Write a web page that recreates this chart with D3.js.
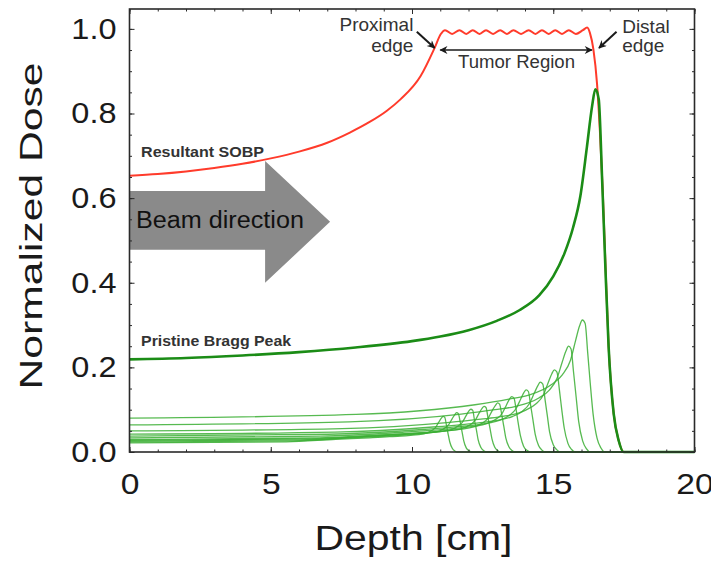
<!DOCTYPE html>
<html>
<head>
<meta charset="utf-8">
<script src="https://cdn.jsdelivr.net/npm/d3@7"></script>
<style>
  body { margin: 0; background: #fff; }
  text { font-family: "Liberation Sans", Arial, sans-serif; }
</style>
</head>
<body>
<div id="chart"></div>
<script>
const W = 711, H = 563;

// axis ticks
const depthTicks = [0, 5, 10, 15, 20];
const depthMinor = d3.range(0, 21, 1);
const doseTicks = [0, 0.2, 0.4, 0.6, 0.8, 1.0];
const doseMinor = d3.range(0, 1.05, 0.05);

// resultant spread-out Bragg peak [depth cm, dose]
const sobp = [[0,0.653],[1,0.657],[2,0.663],[3,0.671],[4,0.681],[5,0.694],[6,0.71],[7,0.731],
  [7.8,0.755],[8.5,0.78],[9.1,0.806],[9.6,0.834],[10.3,0.888],[10.8,0.955],[11.02,0.988],
  [11.17,0.997],[11.42,0.988],[11.68,0.997],[11.92,0.988],[12.15,0.997],[12.39,0.988],
  [12.62,0.997],[12.87,0.988],[13.12,0.997],[13.36,0.988],[13.59,0.997],[13.86,0.988],
  [14.13,0.997],[14.37,0.988],[14.6,0.997],[14.84,0.988],[15.07,0.997],[15.31,0.988],
  [15.55,0.997],[15.8,0.988],[16.05,0.997],[16.2,1.003],[16.3,0.99],[16.42,0.952],
  [16.55,0.87],[16.65,0.76],[16.75,0.62],[16.85,0.44],[16.96,0.25],[17.14,0.09],
  [17.32,0.026],[17.49,0],[20,0]];

// pristine (unmodulated) Bragg peak
const pristine = [[0,0.219],[2,0.222],[4,0.228],[6,0.236],[8,0.247],[10,0.262],[11,0.273],
  [12,0.288],[13,0.31],[13.8,0.335],[14.5,0.37],[15,0.415],[15.4,0.47],[15.7,0.53],
  [15.96,0.605],[16.19,0.72],[16.37,0.815],[16.49,0.857],[16.61,0.834],[16.73,0.644],
  [16.84,0.446],[16.96,0.248],[17.14,0.09],[17.32,0.026],[17.49,0],[20,0]];

// weighted peaks that sum to the SOBP
const weightedPeaks = [
  [[0,0.0215],[5.55,0.0239],[7.3,0.0301],[8.5,0.0336],[9.2,0.0361],[10.42,0.0429],[10.655,0.0491],[10.835,0.0584],[10.95,0.0709],[11.04,0.0801],[11.1,0.084],[11.16,0.0817],[11.22,0.0631],[11.275,0.0437],[11.335,0.0243],[11.425,0.0088],[11.515,0.0025],[11.6,0],[20,0]],
  [[0,0.0238],[5.79,0.0265],[7.78,0.0333],[8.98,0.0372],[9.68,0.04],[10.86,0.0475],[11.11,0.0544],[11.3,0.0646],[11.42,0.0785],[11.52,0.0887],[11.58,0.093],[11.64,0.0905],[11.71,0.0698],[11.77,0.0484],[11.83,0.0269],[11.92,0.0098],[12.02,0.0028],[12.11,0],[20,0]],
  [[0,0.0259],[6.04,0.0288],[8.28,0.0362],[9.48,0.0404],[10.18,0.0434],[11.32,0.0516],[11.58,0.0591],[11.78,0.0702],[11.91,0.0852],[12.01,0.0964],[12.08,0.101],[12.15,0.0983],[12.21,0.0759],[12.28,0.0525],[12.34,0.0292],[12.44,0.0106],[12.54,0.003],[12.64,0],[20,0]],
  [[0,0.0276],[6.28,0.0308],[8.75,0.0387],[9.95,0.0432],[10.65,0.0464],[11.75,0.0552],[12.03,0.0632],[12.24,0.0751],[12.37,0.0912],[12.48,0.103],[12.55,0.108],[12.62,0.1051],[12.69,0.0811],[12.76,0.0562],[12.83,0.0312],[12.93,0.0113],[13.04,0.0032],[13.14,0],[20,0]],
  [[0,0.0297],[6.52,0.0331],[9.23,0.0415],[10.43,0.0464],[11.13,0.0499],[12.19,0.0593],[12.48,0.0679],[12.7,0.0806],[12.84,0.0979],[12.96,0.1107],[13.03,0.116],[13.1,0.1129],[13.18,0.0871],[13.25,0.0603],[13.32,0.0335],[13.43,0.0122],[13.54,0.0035],[13.65,0],[20,0]],
  [[0,0.0335],[6.77,0.0373],[9.73,0.0469],[10.93,0.0524],[11.63,0.0563],[12.65,0.0669],[12.95,0.0766],[13.19,0.091],[13.34,0.1106],[13.45,0.125],[13.53,0.131],[13.61,0.1275],[13.69,0.0984],[13.76,0.0681],[13.84,0.0379],[13.95,0.0138],[14.07,0.0039],[14.18,0],[20,0]],
  [[0,0.0376],[7.02,0.0419],[10.24,0.0526],[11.44,0.0588],[12.14,0.0632],[13.12,0.0751],[13.44,0.086],[13.68,0.1022],[13.84,0.1241],[13.96,0.1402],[14.04,0.147],[14.12,0.143],[14.2,0.1104],[14.28,0.0764],[14.36,0.0425],[14.48,0.0154],[14.6,0.0044],[14.72,0],[20,0]],
  [[0,0.0422],[7.27,0.047],[10.74,0.0591],[11.94,0.066],[12.64,0.071],[13.57,0.0843],[13.91,0.0965],[14.16,0.1147],[14.33,0.1393],[14.46,0.1574],[14.54,0.165],[14.63,0.1605],[14.71,0.1239],[14.79,0.0858],[14.87,0.0477],[15.0,0.0173],[15.13,0.005],[15.25,0],[20,0]],
  [[0,0.0497],[7.52,0.0553],[11.24,0.0695],[12.44,0.0776],[13.14,0.0834],[14.03,0.0991],[14.38,0.1135],[14.65,0.1348],[14.82,0.1637],[14.95,0.1851],[15.04,0.194],[15.13,0.1888],[15.22,0.1457],[15.3,0.1009],[15.39,0.0561],[15.52,0.0204],[15.65,0.0058],[15.78,0],[20,0]],
  [[0,0.064],[7.77,0.0713],[11.74,0.0895],[12.94,0.1],[13.64,0.1075],[14.49,0.1278],[14.86,0.1463],[15.13,0.1738],[15.31,0.211],[15.45,0.2385],[15.54,0.25],[15.63,0.2433],[15.72,0.1878],[15.81,0.13],[15.9,0.0723],[16.04,0.0263],[16.18,0.0075],[16.31,0],[20,0]],
  [[0,0.0799],[8.02,0.0889],[12.23,0.1117],[13.43,0.1248],[14.13,0.1342],[14.94,0.1594],[15.32,0.1825],[15.61,0.2168],[15.79,0.2633],[15.93,0.2976],[16.03,0.312],[16.13,0.3036],[16.22,0.2343],[16.31,0.1622],[16.41,0.0902],[16.55,0.0328],[16.69,0.0094],[16.83,0],[20,0]]
];

const margin = {top: 9, right: 16.5, bottom: 111, left: 129.5};
const innerWidth = W - margin.left - margin.right;
const innerHeight = H - margin.top - margin.bottom;

const svg = d3.select("#chart").append("svg")
    .attr("width", W)
    .attr("height", H);

const defs = svg.append("defs");
defs.append("marker")
    .attr("id", "head")
    .attr("viewBox", "0 0 10 10")
    .attr("refX", 9).attr("refY", 5)
    .attr("markerUnits", "userSpaceOnUse")
    .attr("markerWidth", 9).attr("markerHeight", 8)
    .attr("orient", "auto-start-reverse")
  .append("path")
    .attr("d", "M0,0L10,5L0,10L3,5z")
    .attr("fill", "#1a1a1a");

const g = svg.append("g")
    .attr("transform", `translate(${margin.left},${margin.top})`);

const x = d3.scaleLinear().domain([0, 20]).range([0, innerWidth]);
const y = d3.scaleLinear().domain([0, 1.047]).range([innerHeight, 0]);

// stretch text a bit wider, like the source image
function widen(sel, k) {
  sel.each(function() {
    const w = this.getComputedTextLength();
    d3.select(this).attr("textLength", w * k).attr("lengthAdjust", "spacingAndGlyphs");
  });
}

// beam direction arrow (behind the curves)
const beam = [[0,0.617],[4.8,0.617],[4.8,0.688],[7.1,0.544],[4.8,0.4],[4.8,0.478],[0,0.478]];
g.append("path")
    .attr("d", "M" + beam.map(p => [x(p[0]), y(p[1])].join(",")).join("L") + "Z")
    .attr("fill", "#8a8a8a");
g.append("text")
    .attr("x", x(0.23)).attr("y", y(0.53))
    .attr("font-size", 23)
    .attr("fill", "#111")
    .attr("textLength", 168).attr("lengthAdjust", "spacingAndGlyphs")
    .text("Beam direction");

const line = d3.line()
    .x(d => x(d[0]))
    .y(d => y(d[1]))
    .curve(d3.curveMonotoneX);

g.append("path")
    .attr("d", line(sobp))
    .attr("fill", "none")
    .attr("stroke", "#ff3b2b")
    .attr("stroke-width", 2);

g.append("g").selectAll("path")
    .data(weightedPeaks)
    .join("path")
    .attr("d", line)
    .attr("fill", "none")
    .attr("stroke", "#3aae32")
    .attr("stroke-opacity", 0.85)
    .attr("stroke-width", 1.3);

g.append("path")
    .attr("d", line(pristine))
    .attr("fill", "none")
    .attr("stroke", "#1b8c16")
    .attr("stroke-width", 2.6);

// frame + inward ticks on all sides
const axisColor = "#2a2a2a";
function styleAxis(sel) {
  sel.select(".domain").remove();
  sel.selectAll("line").attr("stroke", axisColor).attr("stroke-width", 1);
}

g.append("g").call(d3.axisLeft(y).tickValues(doseMinor).tickSize(-2.5).tickFormat(""))
    .call(styleAxis);
g.append("g").attr("transform", `translate(${innerWidth},0)`)
    .call(d3.axisRight(y).tickValues(doseMinor).tickSize(-2.5).tickFormat("")).call(styleAxis);
g.append("g").attr("transform", `translate(${innerWidth},0)`)
    .call(d3.axisRight(y).tickValues(doseTicks).tickSize(-5).tickFormat("")).call(styleAxis);
g.append("g").attr("transform", `translate(0,${innerHeight})`)
    .call(d3.axisBottom(x).tickValues(depthMinor).tickSize(-2.5).tickFormat("")).call(styleAxis);
g.append("g")
    .call(d3.axisTop(x).tickValues(depthMinor).tickSize(-2.5).tickFormat("")).call(styleAxis);
g.append("g")
    .call(d3.axisTop(x).tickValues(depthTicks).tickSize(-5).tickFormat("")).call(styleAxis);

const yAxis = g.append("g")
    .call(d3.axisLeft(y).tickValues(doseTicks).tickSize(-5).tickPadding(13).tickFormat(d3.format(".1f")))
    .call(styleAxis);
yAxis.selectAll("text")
    .attr("font-size", 29)
    .attr("font-family", "Liberation Sans, Arial, sans-serif")
    .attr("fill", "#1a1a1a")
    .call(widen, 1.12);

const xAxis = g.append("g")
    .attr("transform", `translate(0,${innerHeight})`)
    .call(d3.axisBottom(x).tickValues(depthTicks).tickSize(-5).tickPadding(21))
    .call(styleAxis);
xAxis.selectAll("text")
    .attr("font-size", 30)
    .attr("font-family", "Liberation Sans, Arial, sans-serif")
    .attr("fill", "#1a1a1a")
    .call(widen, 1.12);

g.append("rect")
    .attr("width", innerWidth)
    .attr("height", innerHeight)
    .attr("fill", "none")
    .attr("stroke", axisColor)
    .attr("stroke-width", 1.6);

// axis titles
svg.append("text")
    .attr("x", margin.left + x(10.05))
    .attr("y", 550)
    .attr("text-anchor", "middle")
    .attr("font-size", 35)
    .attr("fill", "#1a1a1a")
    .attr("textLength", 198).attr("lengthAdjust", "spacingAndGlyphs")
    .text("Depth [cm]");

svg.append("text")
    .attr("transform", `translate(42,${226}) rotate(-90)`)
    .attr("text-anchor", "middle")
    .attr("font-size", 31)
    .attr("fill", "#1a1a1a")
    .attr("textLength", 327).attr("lengthAdjust", "spacingAndGlyphs")
    .text("Normalized Dose");

// curve labels
g.append("text")
    .attr("x", x(0.41)).attr("y", y(0.697))
    .attr("font-size", 15).attr("font-weight", "bold")
    .attr("fill", "#333")
    .attr("textLength", 123).attr("lengthAdjust", "spacingAndGlyphs")
    .text("Resultant SOBP");

g.append("text")
    .attr("x", x(0.41)).attr("y", y(0.25))
    .attr("font-size", 15).attr("font-weight", "bold")
    .attr("fill", "#333")
    .attr("textLength", 150).attr("lengthAdjust", "spacingAndGlyphs")
    .text("Pristine Bragg Peak");

// edge annotations
const note = g.append("g").attr("fill", "#333").attr("font-size", 19);
note.append("text").attr("x", x(10.05)).attr("y", y(0.995)).attr("text-anchor", "end").text("Proximal");
note.append("text").attr("x", x(10.05)).attr("y", y(0.946)).attr("text-anchor", "end").text("edge");
note.append("text").attr("x", x(17.44)).attr("y", y(0.99)).text("Distal");
note.append("text").attr("x", x(17.44)).attr("y", y(0.946)).text("edge");

g.append("text")
    .attr("x", x(13.7)).attr("y", y(0.907))
    .attr("text-anchor", "middle")
    .attr("font-size", 18)
    .attr("fill", "#333")
    .attr("textLength", 117).attr("lengthAdjust", "spacingAndGlyphs")
    .text("Tumor Region");

const pointers = [
  [[10.17, 0.993], [10.8, 0.955]],
  [[17.24, 0.993], [16.62, 0.955]]
];
g.append("g").selectAll("line")
    .data(pointers)
    .join("line")
    .attr("x1", d => x(d[0][0])).attr("y1", d => y(d[0][1]))
    .attr("x2", d => x(d[1][0])).attr("y2", d => y(d[1][1]))
    .attr("stroke", "#1a1a1a")
    .attr("stroke-width", 2)
    .attr("marker-end", "url(#head)");

g.append("line")
    .attr("x1", x(11.0)).attr("y1", y(0.95))
    .attr("x2", x(16.37)).attr("y2", y(0.95))
    .attr("stroke", "#1a1a1a")
    .attr("stroke-width", 1.6)
    .attr("marker-start", "url(#head)")
    .attr("marker-end", "url(#head)");
</script>
</body>
</html>
